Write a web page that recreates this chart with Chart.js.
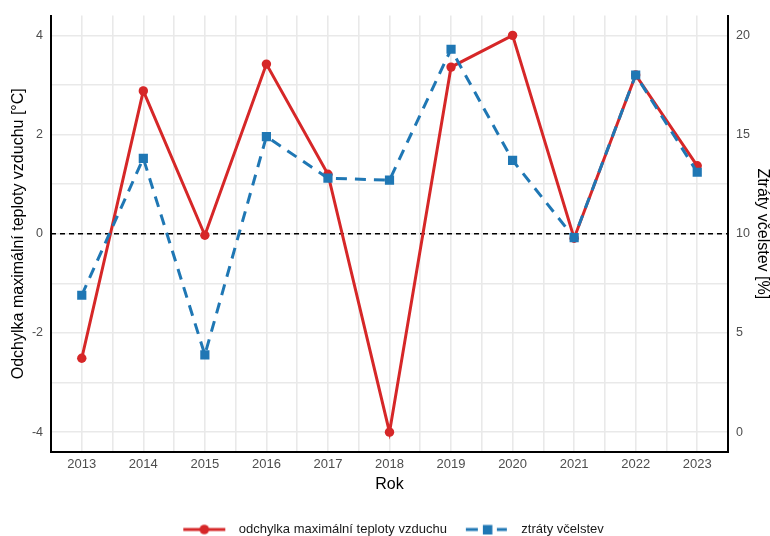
<!DOCTYPE html>
<html><head><meta charset="utf-8">
<script src="https://cdn.jsdelivr.net/npm/chart.js@4.4.0/dist/chart.umd.min.js"></script>
<style>html,body{margin:0;padding:0;background:#fff}canvas{display:block}</style>
</head><body>
<canvas id="c" width="770" height="536"></canvas>
<script>
const years = [2013, 2014, 2015, 2016, 2017, 2018, 2019, 2020, 2021, 2022, 2023];
const tempAnomaly = [-2.51, 2.88, -0.03, 3.42, 1.20, -4.00, 3.36, 4.00, -0.09, 3.20, 1.37];
const colonyLoss = [6.9, 13.8, 3.9, 14.9, 12.8, 12.7, 19.3, 13.7, 9.8, 18.0, 13.1];
const leftTickValues = [-4, -3, -2, -1, 0, 1, 2, 3, 4];
const leftLabelValues = [-4, -2, 0, 2, 4];
const rightTickValues = [0, 5, 10, 15, 20];
const xRange = [2012.5, 2023.5];
const leftRange = [-4.4, 4.4];
const rightRange = [-1, 21];
const labelTemp = 'odchylka maximální teploty vzduchu';
const labelLoss = 'ztráty včelstev';
const titleLeft = 'Odchylka maximální teploty vzduchu [°C]';
const titleRight = 'Ztráty včelstev [%]';
const titleX = 'Rok';

const RED = '#d62728', BLUE = '#1f77b4', GRID = '#e9e9e9', TICK = '#4d4d4d';
const FONT = "'Liberation Sans', Arial, sans-serif";

function legendIcon(color, kind) {
  const c = document.createElement('canvas');
  c.width = 66; c.height = 14;
  const g = c.getContext('2d');
  g.strokeStyle = color; g.fillStyle = color; g.lineWidth = 3;
  const x0 = 17;
  if (kind === 'circle') {
    g.beginPath(); g.moveTo(x0, 7); g.lineTo(x0 + 42, 7); g.stroke();
    g.beginPath(); g.arc(x0 + 21, 7, 4.8, 0, Math.PI * 2); g.fill();
  } else {
    g.beginPath(); g.moveTo(x0, 7); g.lineTo(x0 + 12, 7); g.moveTo(x0 + 31, 7); g.lineTo(x0 + 41, 7); g.stroke();
    g.fillRect(x0 + 17, 2.5, 9.5, 9.5);
  }
  return c;
}
const iconTemp = legendIcon(RED, 'circle');
const iconLoss = legendIcon(BLUE, 'rect');

const xGridValues = years.flatMap(y => [y, y + 0.5]);

new Chart(document.getElementById('c'), {
  type: 'line',
  data: {
    datasets: [
      {
        label: labelTemp,
        data: years.map((y, i) => ({x: y, y: tempAnomaly[i]})),
        yAxisID: 'y',
        borderColor: RED, backgroundColor: RED,
        borderWidth: 3, pointRadius: 4.7, pointBorderWidth: 0, pointStyle: 'circle',
        order: 1, tension: 0
      },
      {
        label: labelLoss,
        data: years.map((y, i) => ({x: y, y: colonyLoss[i]})),
        yAxisID: 'y2',
        borderColor: BLUE, backgroundColor: BLUE,
        borderWidth: 3, borderDash: [11, 8], pointRadius: 6.5, pointBorderWidth: 0, pointStyle: 'rect',
        order: 0, tension: 0
      },
      {
        label: 'zero',
        data: xRange.map(x => ({x: x, y: 0})),
        yAxisID: 'y',
        borderColor: '#000', borderWidth: 1.5, borderDash: [5, 4], pointRadius: 0,
        order: 2
      }
    ]
  },
  options: {
    responsive: false,
    animation: false,
    layout: {padding: {left: 0, right: 0, top: 11.5, bottom: -10}},
    plugins: {
      tooltip: {enabled: false},
      legend: {
        position: 'bottom',
        labels: {
          filter: item => item.datasetIndex !== 2,
          sort: (a, b) => a.datasetIndex - b.datasetIndex,
          usePointStyle: true,
          pointStyleWidth: 66,
          padding: 2,
          color: '#1a1a1a',
          font: {family: FONT, size: 13},
          generateLabels: chart => chart.data.datasets.map((ds, i) => ({
            text: ds.label, datasetIndex: i, pointStyle: i === 0 ? iconTemp : iconLoss,
            fillStyle: ds.borderColor, strokeStyle: ds.borderColor, lineWidth: 0, hidden: false, fontColor: '#1a1a1a'
          }))
        }
      }
    },
    scales: {
      x: {
        type: 'linear', min: xRange[0], max: xRange[1],
        afterBuildTicks: s => { s.ticks = xGridValues.map(v => ({value: v})); },
        afterFit: s => { s.height = 69; },
        ticks: {
          autoSkip: false, maxRotation: 0, padding: 4.5, color: TICK,
          font: {family: FONT, size: 13},
          callback: v => Number.isInteger(v) ? String(v) : ''
        },
        grid: {color: GRID, lineWidth: 1.6, drawTicks: false},
        border: {display: true, color: '#000', width: 2},
        title: {display: true, text: titleX, color: '#000', font: {family: FONT, size: 16, lineHeight: 1.0}, padding: {top: 4, bottom: 28.5}}
      },
      y: {
        type: 'linear', position: 'left', min: leftRange[0], max: leftRange[1],
        afterBuildTicks: s => { s.ticks = leftTickValues.map(v => ({value: v})); },
        afterFit: s => { s.width = 51; },
        ticks: {
          autoSkip: false, padding: 8, color: TICK,
          font: {family: FONT, size: 12.5},
          callback: v => leftLabelValues.includes(v) ? String(v) : ''
        },
        grid: {color: GRID, lineWidth: 1.6, drawTicks: false},
        border: {display: true, color: '#000', width: 2},
        title: {display: true, text: titleLeft, color: '#000', font: {family: FONT, size: 16, lineHeight: 1.0}, padding: {top: 11, bottom: 4}}
      },
      y2: {
        type: 'linear', position: 'right', min: rightRange[0], max: rightRange[1],
        afterBuildTicks: s => { s.ticks = rightTickValues.map(v => ({value: v})); },
        afterFit: s => { s.width = 42; },
        ticks: {
          autoSkip: false, padding: 8, color: TICK,
          font: {family: FONT, size: 12.5},
          callback: v => String(v)
        },
        grid: {display: false, drawTicks: false},
        border: {display: true, color: '#000', width: 2},
        title: {display: true, text: titleRight, color: '#000', font: {family: FONT, size: 16, lineHeight: 1.0}, padding: {top: 0, bottom: 4}}
      }
    }
  }
});
</script>
</body></html>
